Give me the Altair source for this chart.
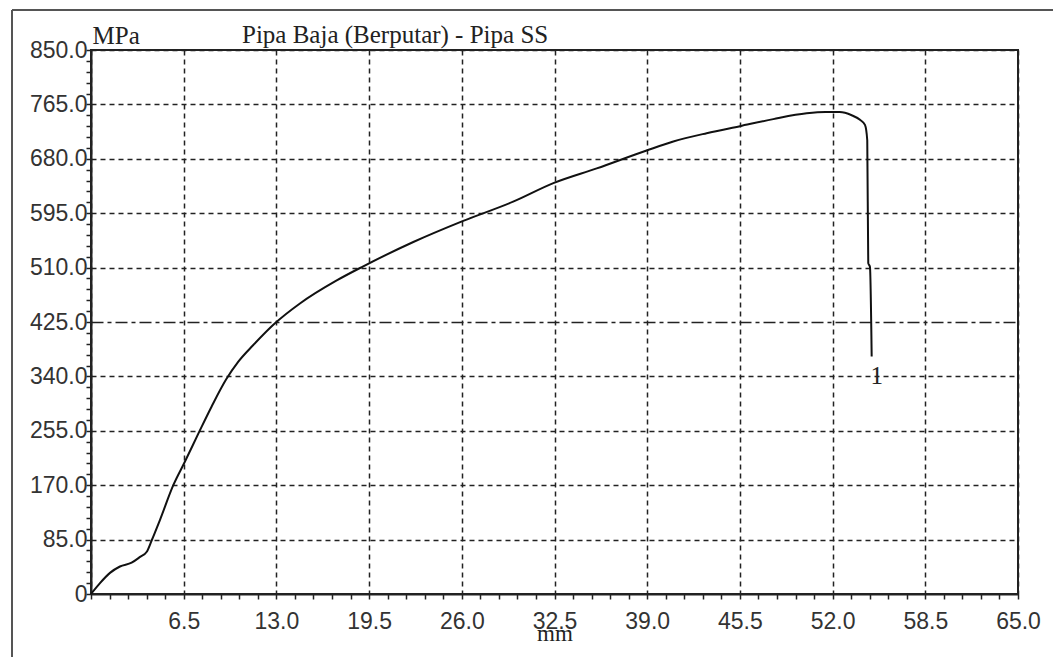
import altair as alt
import pandas as pd

# Curve (displacement mm, stress MPa)
disp_mm = [0, 0.63, 1.33, 2.03, 2.85, 3.44, 3.91, 4.26, 4.84, 5.77, 6.59, 7.6, 8.46,
           9.47, 10.33, 11.38, 12.9, 14.65, 17.23, 19.09, 22.6, 26.1, 29.6, 32.42,
           35.46, 38.96, 40.83, 43.17, 45.5, 47.84, 50.18, 51.5, 52.5, 53.34, 53.92,
           54.27, 54.43, 54.50, 54.62, 54.74]
stress_mpa = [0, 17, 33, 43, 49, 58, 66, 84, 116, 170, 207, 254, 293, 335, 363, 389,
              423, 454, 490, 512, 550, 583, 613, 642, 665, 693, 707, 720, 731, 742,
              751, 753, 753, 748, 741, 733, 709, 517, 511, 371]

x_ticks = [round(1.3 * k, 1) for k in range(51)]
y_ticks = [17 * k for k in range(51)]

title_text = "Pipa Baja (Berputar) - Pipa SS"
y_title = "MPa"
x_title = "mm"
label_text = ["1"]
label_x = [55.1]
label_y = [340]

df = pd.DataFrame({"x": disp_mm, "y": stress_mpa, "i": list(range(len(disp_mm)))})
lab = pd.DataFrame({"x": label_x, "y": label_y, "t": label_text})

SERIF = "Liberation Serif"
SANS = "Liberation Sans"

x_axis = alt.Axis(
    values=x_ticks, tickCount=200,
    labelExpr="datum.value == 0 ? '' : (round(datum.value*10) % 65 == 0 ? format(datum.value, '.1f') : '')",
    labelOverlap=False, labelFlush=False,
    labelFont=SANS, labelFontSize=23, labelColor="#333", labelPadding=11,
    labelBaseline="top",
    tickSize=5, tickColor="#222", tickWidth=1.5,
    domainColor="#222", domainWidth=2,
    grid=True,
    gridColor="#222", gridWidth=1.5,
    gridOpacity={"condition": {"test": "round(datum.value*10) % 65 == 0", "value": 1}, "value": 0},
    gridDash=[5, 4],
    title=x_title, titleFont=SERIF, titleFontSize=23, titleFontWeight="normal",
    titleColor="#222", titleY=46, titleBaseline="alphabetic",
)

y_axis = alt.Axis(
    values=y_ticks, tickCount=200,
    labelExpr="datum.value == 0 ? '0' : (round(datum.value) % 85 == 0 ? format(datum.value, '.1f') : '')",
    labelOverlap=False, labelFlush=False,
    labelFont=SANS, labelFontSize=23, labelColor="#333", labelPadding=-1,
    tickSize=5, tickColor="#222", tickWidth=1.5,
    domainColor="#222", domainWidth=2,
    grid=True,
    gridColor="#222", gridWidth=1.5,
    gridOpacity={"condition": {"test": "round(datum.value) % 85 == 0 && datum.value > 0", "value": 1}, "value": 0},
    gridDash={"condition": {"test": "datum.value == 425", "value": [12, 4, 4, 4]}, "value": [5, 4]},
    title=y_title, titleFont=SERIF, titleFontSize=25, titleFontWeight="normal",
    titleColor="#222", titleAngle=0, titleAlign="left", titleBaseline="alphabetic",
    titleX=1, titleY=-7,
)

xs = alt.Scale(domain=[0, 65], nice=False, zero=False)
ys = alt.Scale(domain=[0, 850], nice=False, zero=False)

curve = alt.Chart(df).mark_line(color="#111", strokeWidth=2, interpolate="monotone").encode(
    x=alt.X("x:Q", scale=xs, axis=x_axis),
    y=alt.Y("y:Q", scale=ys, axis=y_axis),
    order="i:Q",
)

label = alt.Chart(lab).mark_text(font=SERIF, fontSize=25, color="#222",
                                 align="center", baseline="middle").encode(
    x=alt.X("x:Q", scale=xs), y=alt.Y("y:Q", scale=ys), text="t:N")

title = alt.Chart(pd.DataFrame({"t": [title_text]})).mark_text(
    font=SERIF, fontSize=25, color="#222", align="left", baseline="alphabetic"
).encode(x=alt.value(151), y=alt.value(-7), text="t:N")

frame_left = alt.Chart(pd.DataFrame({"a": [0]})).mark_rule(color="#555", strokeWidth=2).encode(
    x=alt.value(-79), y=alt.value(-40), y2=alt.value(620))
frame_top = alt.Chart(pd.DataFrame({"a": [0]})).mark_rule(color="#555", strokeWidth=2).encode(
    x=alt.value(-79), x2=alt.value(975), y=alt.value(-40))

chart = alt.layer(frame_left, frame_top, curve, label, title).properties(
    width=927, height=544,
    autosize=alt.AutoSizeParams(type="none"),
    padding={"left": 91, "top": 50, "right": 35, "bottom": 63},
    background="white",
).configure_view(stroke="#222", strokeWidth=2)

chart.save("out.html", embed_options={"renderer": "svg", "actions": False})
